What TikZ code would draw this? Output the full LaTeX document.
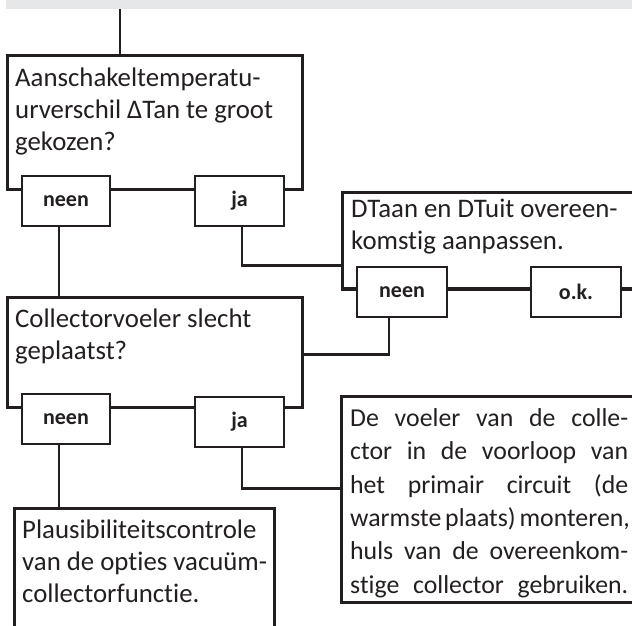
\documentclass[tikz,border=0pt]{standalone}
\usepackage{fontspec}
\setmainfont{Carlito}[Ligatures={NoCommon}]
\definecolor{ink}{HTML}{231F20}
\definecolor{band}{HTML}{E6E7E9}
\tikzset{
  box/.style={draw=ink, line width=2.5pt, fill=white, rectangle, inner sep=0pt, anchor=north west},
  lab/.style={draw=ink, line width=2.5pt, fill=white, rectangle, inner sep=0pt,
    minimum height=50pt, text=ink, font=\fontsize{22}{26}\selectfont\bfseries},
  txt/.style={anchor=north west, inner sep=0pt, align=left, text=ink,
    font=\fontsize{26.8}{32}\selectfont},
  wire/.style={draw=ink, line width=2.5pt}
}
\begin{document}
\begin{tikzpicture}[x=1pt,y=-1pt]
\useasboundingbox (0,0) rectangle (632,625);
\clip (0,0) rectangle (632,625);
\fill[band] (6,0) rectangle (632,9);
\coordinate (top) at (120,9);
% big boxes
\node[box, minimum width=295pt, minimum height=134pt] (q1) at (6,54) {};
\node[box, minimum width=295pt, minimum height=110pt] (q2) at (6,296) {};
\node[box, minimum width=309pt, minimum height=96pt] (q5) at (341,191) {};
\node[box, minimum width=260pt, minimum height=140pt] (q3) at (13,507) {};
\node[box, minimum width=320pt, minimum height=206pt] (q4) at (340,395) {};
% connector between the two answers of q5 (runs along its lower edge)
\draw[wire] (q5.south west) -- (q5.south east);
% labels
\node[lab, minimum width=88pt] (n1) at (66,201) {neen};
\node[lab, minimum width=89pt] (j1) at (239.5,201) {ja};
\node[lab, minimum width=88pt] (n2) at (66,419) {neen};
\node[lab, minimum width=89pt] (j2) at (239.5,422) {ja};
\node[lab, minimum width=90pt] (n3) at (402,292) {neen};
\node[lab, minimum width=90pt] (ok) at (576,292) {o.k.};
% texts
\node[txt] (t1) at (15,66) {\rule{0pt}{20pt}Aanschakeltemperatu-\\urverschil ΔTan te groot\\gekozen?};
\node[txt] (t2) at (15,307) {\rule{0pt}{20pt}Collectorvoeler slecht\\geplaatst?};
\node[txt] (t3) at (351,197) {\rule{0pt}{20pt}DTaan en DTuit overeen-\\komstig aanpassen.};
\node[txt] (t4) at (22,518) {\rule{0pt}{20pt}Plausibiliteitscontrole\\van de opties vacuüm-\\collectorfunctie.};
\node[txt, font=\fontsize{25.8}{33.4}\selectfont] (t5) at (350,406) {\rule{0pt}{20pt}\makebox[278pt][s]{De voeler van de colle-}\\
\makebox[278pt][s]{ctor in de voorloop van}\\
\makebox[278pt][s]{het primair circuit (de}\\
\makebox[278pt][s]{warmste plaats) monteren,}\\
\makebox[278pt][s]{huls van de overeenkom-}\\
\makebox[278pt][s]{stige collector gebruiken.}};
% connectors
\draw[wire] (top) -- (top |- q1.north);
\draw[wire] ([xshift=-7pt]n1.south) -- ([xshift=-7pt]n1.south |- q2.north);
\draw[wire] ([xshift=2.5pt]j1.south) |- ([yshift=-25pt]q5.west);
\draw[wire] ([yshift=-2pt]q2.east) -| ([xshift=-13pt]n3.south);
\draw[wire] ([xshift=-7pt]n2.south) -- ([xshift=-7pt]n2.south |- q3.north);
\draw[wire] ([xshift=2.5pt]j2.south) |- ([yshift=11pt]q4.west);
\end{tikzpicture}
\end{document}
